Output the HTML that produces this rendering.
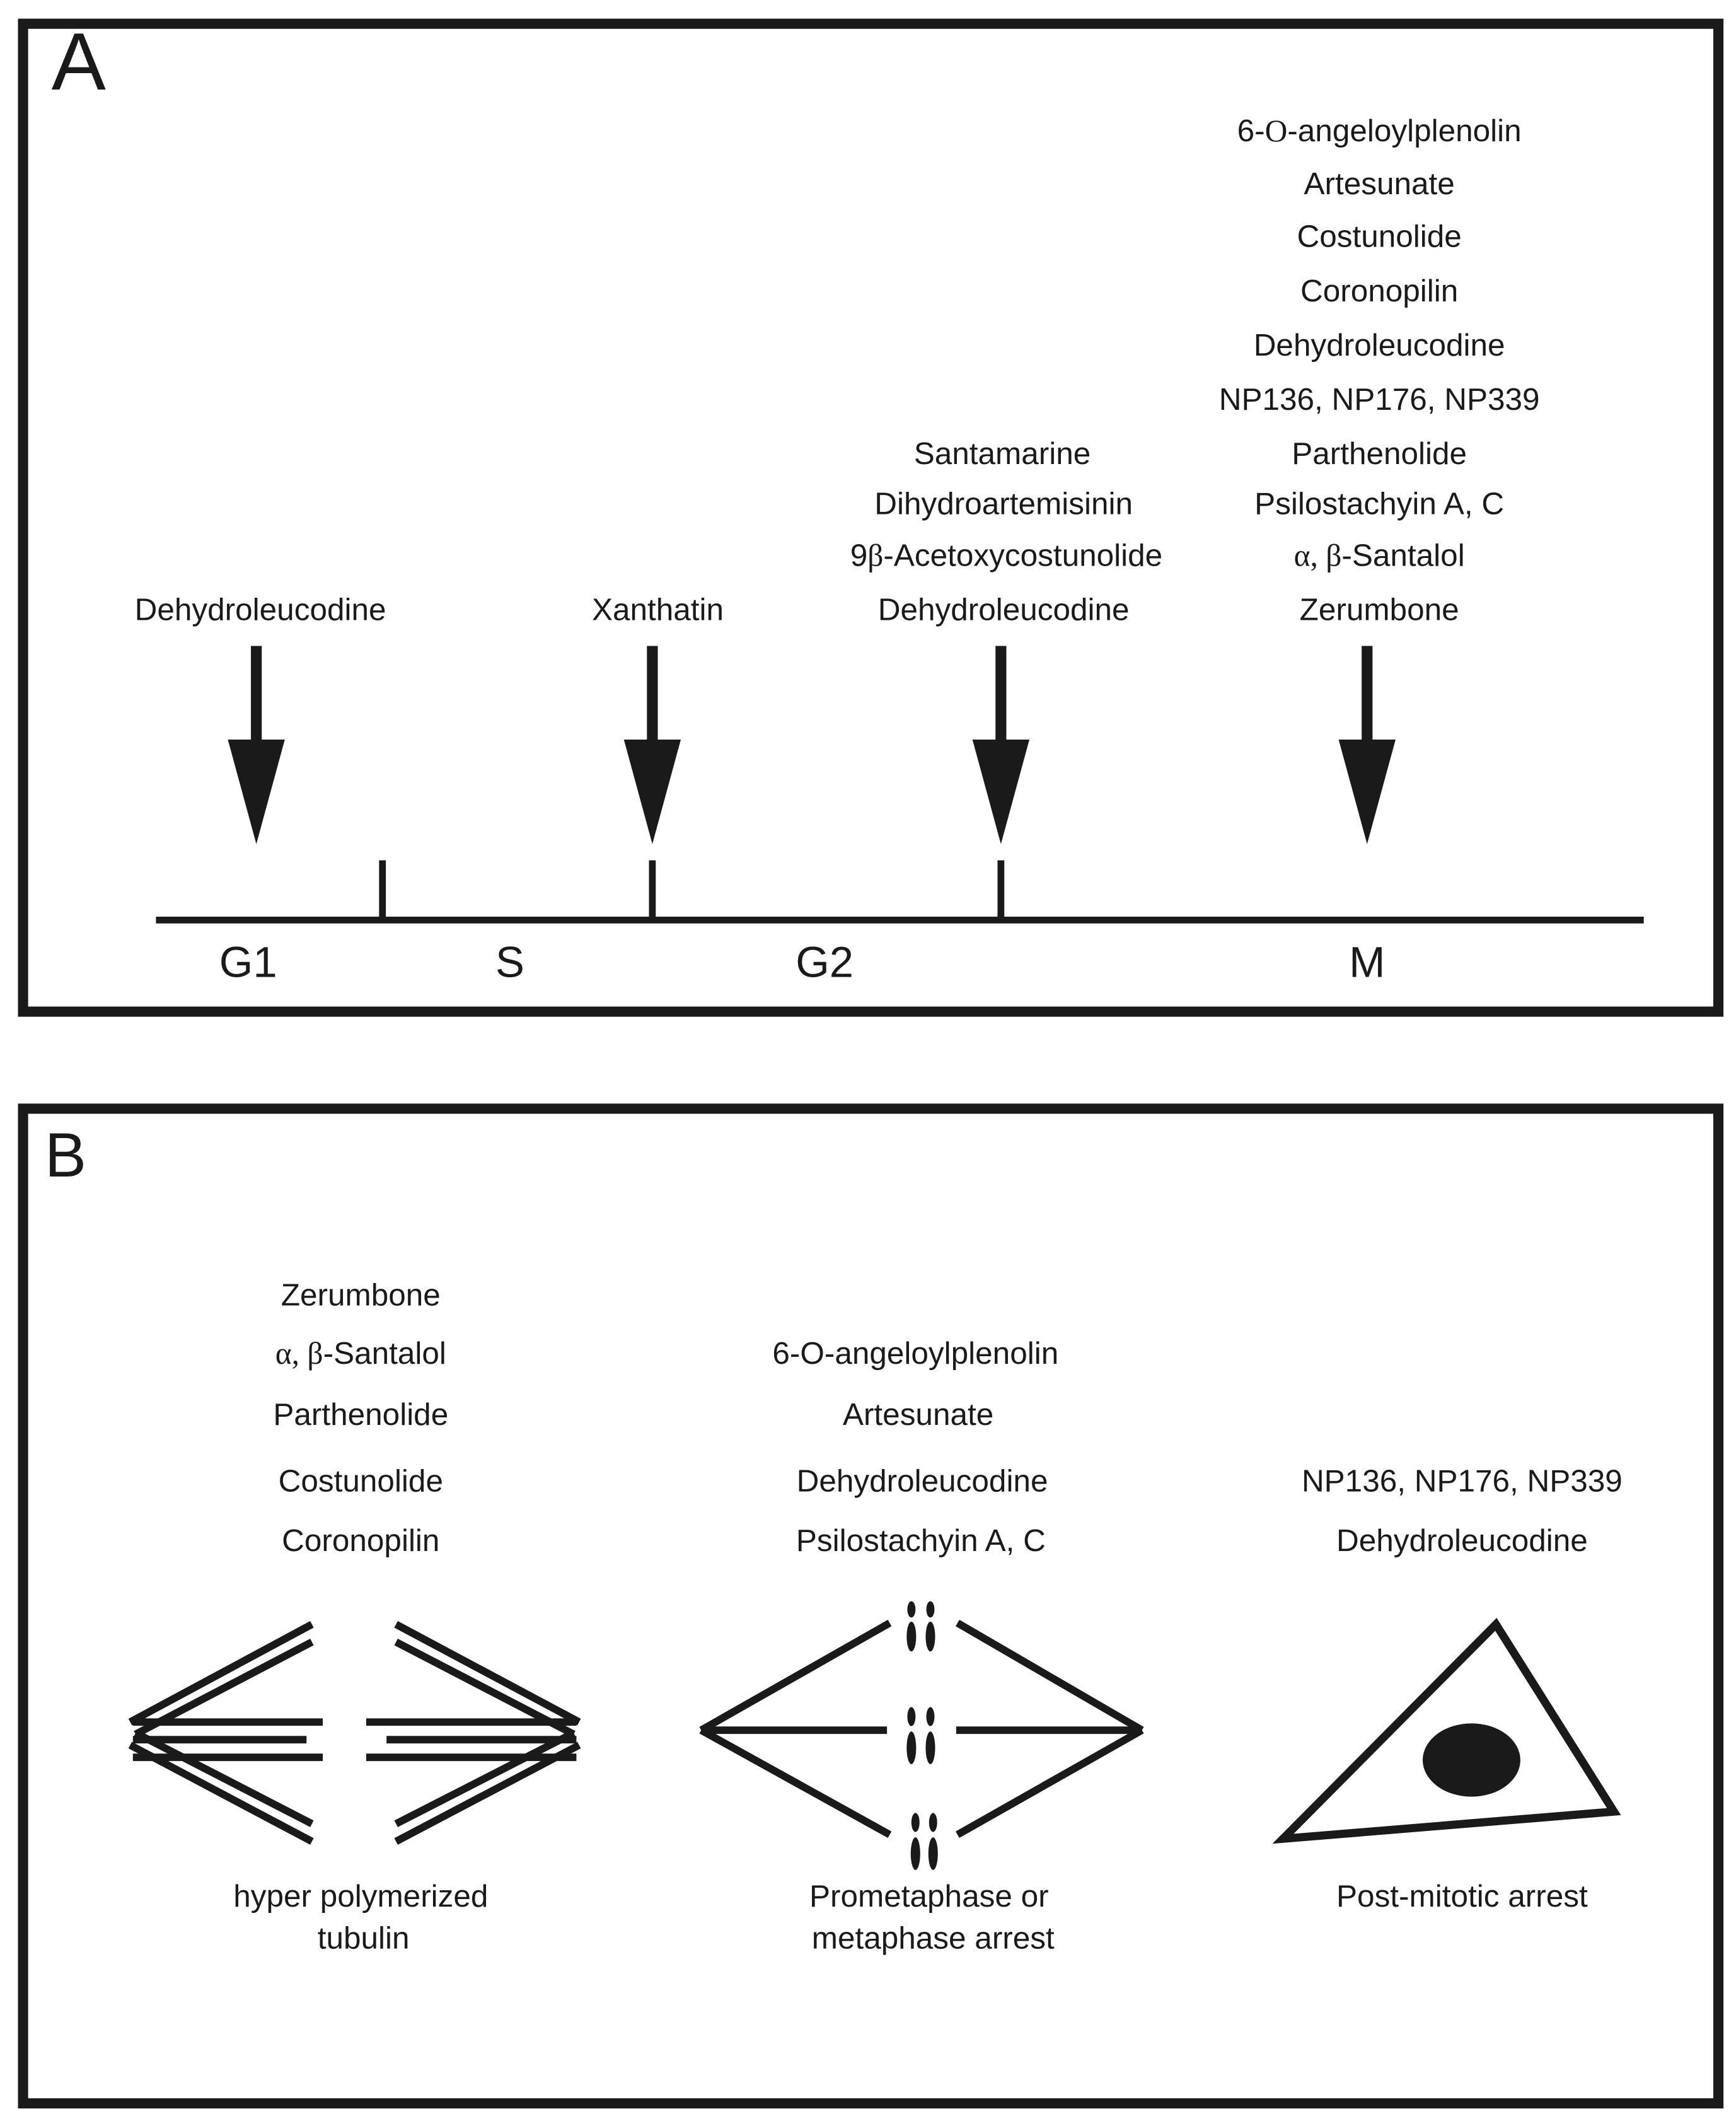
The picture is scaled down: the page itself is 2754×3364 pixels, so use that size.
<!DOCTYPE html>
<html><head><meta charset="utf-8"><style>html,body{margin:0;padding:0;background:#fff}svg{display:block}</style></head>
<body>
<svg width="2754" height="3364" viewBox="0 0 1280 1563" preserveAspectRatio="none" xmlns="http://www.w3.org/2000/svg" font-family="Liberation Sans, Arial, sans-serif" fill="#1a1a1a">
<rect x="0" y="0" width="1280" height="1563" fill="#fff"/>
<g fill="none" stroke="#1a1a1a" stroke-width="7.5">
<rect x="17" y="17.5" width="1250" height="728"/>
<rect x="17" y="817" width="1250" height="733"/>
</g>
<text x="38" y="66" font-size="60">A</text>
<text x="33" y="867" font-size="46">B</text>
<g font-size="23" text-anchor="middle">
<text x="192" y="457">Dehydroleucodine</text>
<text x="485" y="457">Xanthatin</text>
<text x="739" y="342">Santamarine</text>
<text x="740" y="379">Dihydroartemisinin</text>
<text x="742" y="417">9<tspan font-family="Liberation Serif, serif">β</tspan>-Acetoxycostunolide</text>
<text x="740" y="457">Dehydroleucodine</text>
<text x="1017" y="104">6-<tspan font-family="Liberation Serif, serif">O</tspan>-angeloylplenolin</text>
<text x="1017" y="143">Artesunate</text>
<text x="1017" y="182">Costunolide</text>
<text x="1017" y="222">Coronopilin</text>
<text x="1017" y="262">Dehydroleucodine</text>
<text x="1017" y="302">NP136, NP176, NP339</text>
<text x="1017" y="342">Parthenolide</text>
<text x="1017" y="379">Psilostachyin A, C</text>
<text x="1017" y="417"><tspan font-family="Liberation Serif, serif">α, β</tspan>-Santalol</text>
<text x="1017" y="457">Zerumbone</text>
<g font-size="32"><text x="183" y="720">G1</text><text x="376" y="720">S</text><text x="608" y="720">G2</text><text x="1008" y="720">M</text></g>

<text x="266" y="962">Zerumbone</text>
<text x="266" y="1005"><tspan font-family="Liberation Serif, serif">α, β</tspan>-Santalol</text>
<text x="266" y="1050">Parthenolide</text>
<text x="266" y="1099">Costunolide</text>
<text x="266" y="1143">Coronopilin</text>
<text x="675" y="1005">6-O-angeloylplenolin</text>
<text x="677" y="1050">Artesunate</text>
<text x="680" y="1099">Dehydroleucodine</text>
<text x="679" y="1143">Psilostachyin A, C</text>
<text x="1078" y="1099">NP136, NP176, NP339</text>
<text x="1078" y="1143">Dehydroleucodine</text>
<text x="266" y="1405">hyper polymerized</text>
<text x="268" y="1436">tubulin</text>
<text x="685" y="1405">Prometaphase or</text>
<text x="688" y="1436">metaphase arrest</text>
<text x="1078" y="1405">Post-mitotic arrest</text>
</g>
<!-- timeline -->
<g stroke="#1a1a1a" stroke-width="5" fill="none">
<line x1="115" y1="678" x2="1212" y2="678"/>
<line x1="282" y1="634" x2="282" y2="678"/>
<line x1="481" y1="634" x2="481" y2="678"/>
<line x1="738" y1="634" x2="738" y2="678"/>
</g>
<g>
<rect x="185" y="476" width="8" height="72"/><polygon points="168,545 210,545 189,622"/>
<rect x="477" y="476" width="8" height="72"/><polygon points="460,545 502,545 481,622"/>
<rect x="734" y="476" width="8" height="72"/><polygon points="717,545 759,545 738,622"/>
<rect x="1004" y="476" width="8" height="72"/><polygon points="987,545 1029,545 1008,622"/>
</g>
<!-- spindle 1 -->
<g stroke="#1a1a1a" stroke-width="5.5" fill="none">
<line x1="96" y1="1269" x2="230" y2="1197"/>
<line x1="100" y1="1278" x2="230" y2="1210"/>
<line x1="96" y1="1286" x2="230" y2="1357"/>
<line x1="100" y1="1277" x2="230" y2="1344"/>
<line x1="98" y1="1269" x2="238" y2="1269"/>
<line x1="98" y1="1282" x2="226" y2="1282"/>
<line x1="98" y1="1295" x2="238" y2="1295"/>
<line x1="427" y1="1269" x2="292" y2="1197"/>
<line x1="423" y1="1278" x2="292" y2="1210"/>
<line x1="427" y1="1286" x2="292" y2="1357"/>
<line x1="423" y1="1277" x2="292" y2="1344"/>
<line x1="270" y1="1269" x2="425" y2="1269"/>
<line x1="285" y1="1282" x2="425" y2="1282"/>
<line x1="270" y1="1295" x2="425" y2="1295"/>
</g>
<!-- spindle 2 -->
<g stroke="#1a1a1a" stroke-width="5.5" fill="none">
<line x1="517" y1="1275" x2="656" y2="1196"/>
<line x1="517" y1="1275" x2="654" y2="1275"/>
<line x1="517" y1="1275" x2="656" y2="1352"/>
<line x1="842" y1="1275" x2="706" y2="1196"/>
<line x1="842" y1="1275" x2="705" y2="1275"/>
<line x1="842" y1="1275" x2="706" y2="1352"/>
</g>
<g>
<ellipse cx="672" cy="1186" rx="3" ry="6"/><ellipse cx="672" cy="1206" rx="3.5" ry="11"/>
<ellipse cx="686" cy="1186" rx="3" ry="6"/><ellipse cx="686" cy="1206" rx="3.5" ry="11"/>
<ellipse cx="672" cy="1265" rx="3" ry="7"/><ellipse cx="672" cy="1288" rx="3.5" ry="12"/>
<ellipse cx="686" cy="1265" rx="3" ry="7"/><ellipse cx="686" cy="1288" rx="3.5" ry="12"/>
<ellipse cx="675" cy="1343" rx="3" ry="7"/><ellipse cx="675" cy="1366" rx="3.5" ry="12"/>
<ellipse cx="688" cy="1343" rx="3" ry="7"/><ellipse cx="688" cy="1366" rx="3.5" ry="12"/>
</g>
<!-- cell -->
<polygon points="1103,1197 1190,1335 946,1355" fill="none" stroke="#1a1a1a" stroke-width="6" stroke-linejoin="miter"/>
<ellipse cx="1085" cy="1297" rx="36" ry="27"/>
</svg>
</body></html>
